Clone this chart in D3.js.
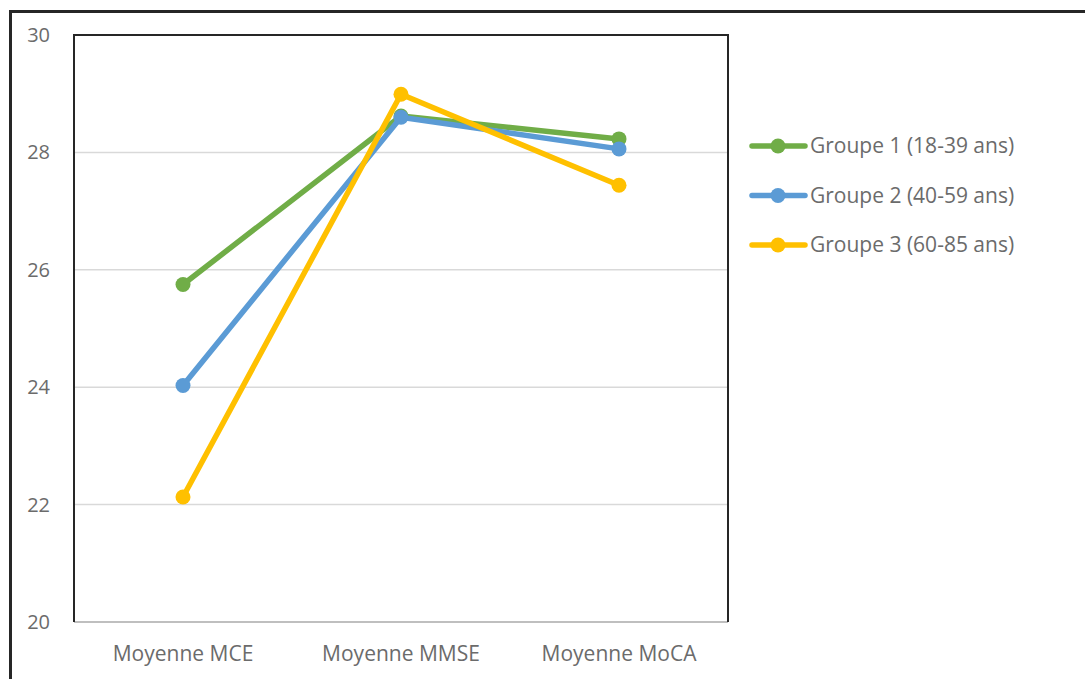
<!DOCTYPE html>
<html>
<head>
<meta charset="utf-8">
<script src="https://cdn.jsdelivr.net/npm/d3@7"></script>
<style>
  body { margin: 0; background: #fff; }
  text { font-family: "Open Sans", "Liberation Sans", sans-serif; fill: #6b6b6b; }
</style>
</head>
<body>
<script>
// chart data
const categories = ['Moyenne MCE', 'Moyenne MMSE', 'Moyenne MoCA'];
const groupNames = ['Groupe 1 (18-39 ans)', 'Groupe 2 (40-59 ans)', 'Groupe 3 (60-85 ans)'];
const group1 = [25.75, 28.62, 28.23];
const group2 = [24.03, 28.60, 28.06];
const group3 = [22.13, 28.99, 27.44];
const yTicks = [20, 22, 24, 26, 28, 30];
const colors = ['#70ad47', '#5b9bd5', '#ffc000'];

const series = [group1, group2, group3];

const svgWidth = 1085;
const svgHeight = 679;
const plot = { left: 74, top: 35, right: 728, bottom: 622 };

const svg = d3.select('body')
    .append('svg')
    .attr('width', svgWidth)
    .attr('height', svgHeight);

// outer frame
svg.append('path')
    .attr('d', `M10.5,${svgHeight + 5} V11.5 H${svgWidth + 5}`)
    .attr('fill', 'none')
    .attr('stroke', '#262626')
    .attr('stroke-width', 3);

const xScale = d3.scaleBand()
    .domain(categories)
    .range([plot.left, plot.right]);

const yScale = d3.scaleLinear()
    .domain([20, 30])
    .range([plot.bottom, plot.top]);

// gridlines
svg.append('g')
    .selectAll('line')
    .data(yTicks.filter(d => d > 20 && d < 30))
    .enter()
    .append('line')
    .attr('x1', plot.left)
    .attr('x2', plot.right)
    .attr('y1', d => yScale(d))
    .attr('y2', d => yScale(d))
    .attr('stroke', '#d9d9d9')
    .attr('stroke-width', 1.5);

// y tick labels
svg.append('g')
    .selectAll('text')
    .data(yTicks)
    .enter()
    .append('text')
    .attr('x', 50)
    .attr('y', d => yScale(d))
    .attr('dy', '0.35em')
    .attr('text-anchor', 'end')
    .style('font-size', '20px')
    .text(d => d);

// x category labels
svg.append('g')
    .selectAll('text')
    .data(categories)
    .enter()
    .append('text')
    .attr('x', d => xScale(d) + xScale.bandwidth() / 2)
    .attr('y', 654)
    .attr('dy', '0.35em')
    .attr('text-anchor', 'middle')
    .style('font-size', '21px')
    .text(d => d);

// plot frame: dark top/left/right, gray bottom axis
svg.append('line')
    .attr('x1', plot.left).attr('x2', plot.right)
    .attr('y1', plot.bottom).attr('y2', plot.bottom)
    .attr('stroke', '#bfbfbf').attr('stroke-width', 2);
svg.append('path')
    .attr('d', `M${plot.left},${plot.bottom} V${plot.top} H${plot.right} V${plot.bottom}`)
    .attr('fill', 'none')
    .attr('stroke', '#262626')
    .attr('stroke-width', 2);

const line = d3.line()
    .x((d, i) => xScale(categories[i]) + xScale.bandwidth() / 2)
    .y(d => yScale(d));

series.forEach((values, s) => {
    const g = svg.append('g');
    g.append('path')
        .datum(values)
        .attr('d', line)
        .attr('fill', 'none')
        .attr('stroke', colors[s])
        .attr('stroke-width', 5.5)
        .attr('stroke-linejoin', 'round')
        .attr('stroke-linecap', 'round');
    g.selectAll('circle')
        .data(values)
        .enter()
        .append('circle')
        .attr('cx', (d, i) => xScale(categories[i]) + xScale.bandwidth() / 2)
        .attr('cy', d => yScale(d))
        .attr('r', 7.5)
        .attr('fill', colors[s]);
});

// legend
const legend = svg.append('g');
groupNames.forEach((name, i) => {
    const y = 146 + i * 49.5;
    legend.append('line')
        .attr('x1', 752).attr('x2', 805)
        .attr('y1', y).attr('y2', y)
        .attr('stroke', colors[i])
        .attr('stroke-width', 5.5)
        .attr('stroke-linecap', 'round');
    legend.append('circle')
        .attr('cx', 778).attr('cy', y)
        .attr('r', 7.5)
        .attr('fill', colors[i]);
    legend.append('text')
        .attr('x', 810)
        .attr('y', y)
        .attr('dy', '0.35em')
        .style('font-size', '21px')
        .text(name);
});
</script>
</body>
</html>
